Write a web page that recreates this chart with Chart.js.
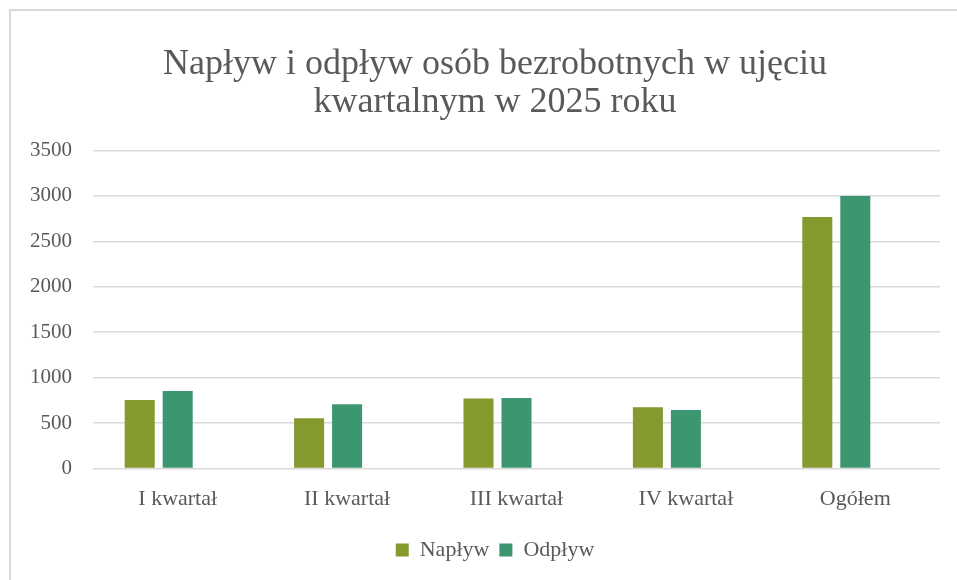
<!DOCTYPE html>
<html lang="pl">
<head>
<meta charset="utf-8">
<script src="https://cdn.jsdelivr.net/npm/chart.js@4/dist/chart.umd.min.js"></script>
<style>
    html, body { margin: 0; padding: 0; background: #fff; overflow: hidden; }
    #wrap { position: relative; width: 957px; height: 580px; overflow: hidden; }
    #frame { position: absolute; left: 9px; top: 9px; width: 1000px; height: 620px; border: 2px solid #d9d9d9; box-sizing: border-box; pointer-events: none; }
    canvas { position: absolute; left: 0; top: 0; }
</style>
</head>
<body>
<div id="wrap">
    <canvas id="chart" width="990" height="580"></canvas>
    <div id="frame"></div>
</div>
<script>
// Dane
const categories = ["I kwartał", "II kwartał", "III kwartał", "IV kwartał", "Ogółem"];
const naplyw = [755, 553, 770, 675, 2767];
const odplyw = [853, 707, 777, 645, 2998];
const emptySeries = [null, null, null, null, null];
const yTicks = [0, 500, 1000, 1500, 2000, 2500, 3000, 3500];

const textColor = "#595959";
const serif = "'Liberation Serif', 'DejaVu Serif', serif";

const ctx = document.getElementById("chart").getContext("2d");
new Chart(ctx, {
    type: "bar",
    data: {
        labels: categories,
        datasets: [
            { label: "Napływ", data: naplyw, backgroundColor: "#84992e" },
            { label: "Odpływ", data: odplyw, backgroundColor: "#3c9670" },
            { label: "", data: emptySeries, backgroundColor: "rgba(0,0,0,0)" }
        ]
    },
    options: {
        responsive: false,
        animation: false,
        layout: { padding: { left: 0, right: 0, top: 0, bottom: 9 } },
        datasets: {
            bar: { categoryPercentage: 0.673, barPercentage: 0.79 }
        },
        plugins: {
            title: {
                display: true,
                text: ["Napływ i odpływ osób bezrobotnych w ujęciu", "kwartalnym w 2025 roku"],
                color: textColor,
                font: { family: serif, size: 36, weight: "normal", lineHeight: 1.06 },
                padding: { top: 45, bottom: 29 }
            },
            legend: {
                position: "bottom",
                labels: {
                    color: textColor,
                    font: { family: serif, size: 22 },
                    boxWidth: 13,
                    boxHeight: 13,
                    padding: 10,
                    filter: item => item.text !== ""
                }
            },
            tooltip: { enabled: false }
        },
        scales: {
            x: {
                grid: { display: false, drawTicks: false },
                border: { display: false },
                ticks: { color: textColor, font: { family: serif, size: 22 }, padding: 17 }
            },
            y: {
                min: 0,
                max: 3500,
                afterBuildTicks: scale => { scale.ticks = yTicks.map(v => ({ value: v })); },
                afterFit: scale => { scale.width = 93; },
                grid: { color: "#d9d9d9", lineWidth: 1.5, drawTicks: false },
                border: { display: false },
                ticks: {
                    color: textColor,
                    font: { family: serif, size: 21 },
                    padding: 21,
                    callback: v => String(v)
                }
            },
            // pusty margines po prawej, żeby tytuł i legenda były wyśrodkowane jak w oryginale
            yRight: {
                position: "right",
                min: 0,
                max: 3500,
                afterFit: scale => { scale.width = 50; },
                grid: { display: false, drawTicks: false },
                border: { display: false },
                ticks: { display: false }
            }
        }
    }
});
</script>
</body>
</html>
